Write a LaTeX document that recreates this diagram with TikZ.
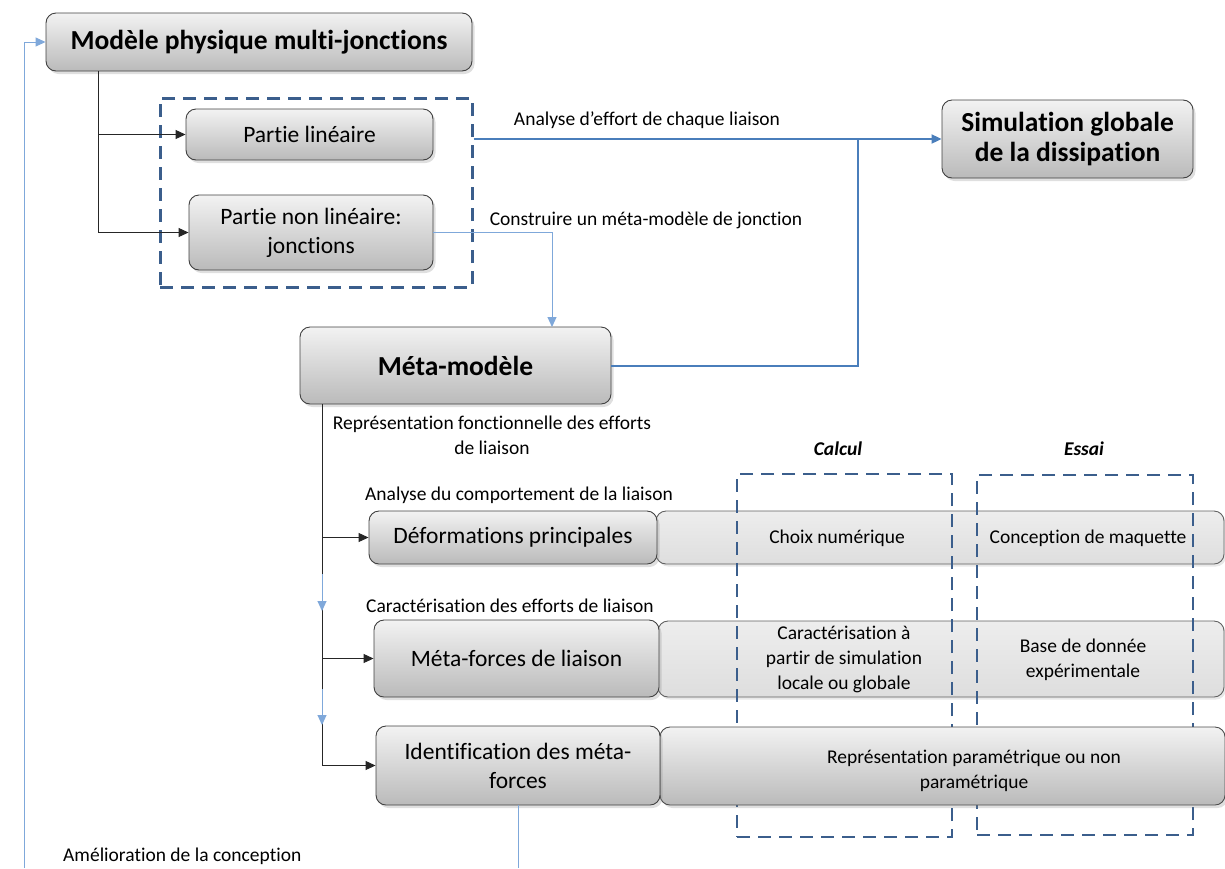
\documentclass[tikz,border=0pt]{standalone}
\usepackage{fontspec}
\setmainfont[Ligatures=NoCommon]{Carlito}
\usetikzlibrary{shadows,arrows.meta}

\definecolor{frameblue}{HTML}{3B5E8C}
\definecolor{linkblue}{HTML}{4A7EBB}
\definecolor{thinblue}{HTML}{7FA8DA}

\newcommand{\fs}[2]{\fontsize{#1}{#2}\selectfont}

\tikzset{
  x=1pt, y=-1pt,
  box/.style={draw=black!75, line width=0.9pt, rounded corners=10pt,
    top color=black!5, bottom color=black!27, inner sep=0pt, align=center,
    drop shadow={shadow xshift=2.5pt, shadow yshift=-3pt, opacity=0.25}},
  bar/.style={draw=black!62, line width=0.9pt, rounded corners=10pt,
    top color=black!7, bottom color=black!13, inner sep=0pt, align=center,
    drop shadow={shadow xshift=2pt, shadow yshift=-2.5pt, opacity=0.18}},
  group/.style={draw=frameblue, line width=3pt, dash pattern=on 13pt off 8pt,
    inner sep=0pt},
  blk/.style={draw=black!85, line width=1pt},
  bl/.style={draw=linkblue, line width=2pt},
  lbl/.style={draw=thinblue, line width=1pt},
  tip/.style={-{Triangle[length=10pt,width=9pt]}},
  note/.style={inner sep=0pt, align=center, font=\fs{19.5}{25}},
  big/.style={font=\bfseries\fs{27.5}{30}},
  mid/.style={font=\fs{23.5}{29}},
  small/.style={font=\fs{19.5}{25}}
}

\begin{document}
\begin{tikzpicture}
\useasboundingbox (0,0) rectangle (1225,868);

% upper part
\node[box, big, minimum width=426, minimum height=58] (modele) at (259,42) {Modèle physique multi-jonctions};
\node[group, minimum width=312, minimum height=189] (grp) at (316,192.5) {};
\node[box, mid, minimum width=247, minimum height=51] (plin) at (309.5,134.5) {Partie linéaire};
\node[box, mid, minimum width=244, minimum height=75] (pnl) at (311,232.5) {Partie non linéaire:\\jonctions};
\node[box, big, minimum width=251, minimum height=78] (simul) at (1067.5,139) {Simulation globale\\de la dissipation};
\node[box, big, minimum width=311, minimum height=77] (meta) at (455.5,365.5) {Méta-modèle};

% row bars behind the dashed columns
\node[bar, small, minimum width=568, minimum height=53] (r1) at (940,537.5) {};
\node[bar, small, minimum width=566, minimum height=76] (r2) at (941,659) {};

% dashed columns
\node[group, line width=2.8pt, minimum width=215, minimum height=363] (calc) at (844.5,655.5) {};
\node[group, line width=2.8pt, minimum width=216, minimum height=360] (essai) at (1085,655) {};
\node[font=\bfseries\itshape\fs{19.5}{22}] (tcalc) at (838,449) {Calcul};
\node[font=\bfseries\itshape\fs{19.5}{22}] (tessai) at (1084,449) {Essai};

% row bar in front of the columns
\node[box, small, minimum width=565, minimum height=78, draw=black!70] (r3) at (942.5,766) {};

% left boxes
\node[box, mid, minimum width=288, minimum height=53] (deform) at (513,537.5) {Déformations principales};
\node[box, mid, minimum width=285, minimum height=77] (mforce) at (516.5,658.5) {Méta-forces de liaison};
\node[box, mid, minimum width=284, minimum height=79] (ident) at (518,765.5) {Identification des méta-\\forces};

% texts in the columns
\node[small] (t11) at (837,538) {Choix numérique};
\node[small] (t12) at (1088,538) {Conception de maquette};
\node[small, align=center] (t21) at (844,659) {Caractérisation à\\partir de simulation\\locale ou globale};
\node[small, align=center] (t22) at (1083,660) {Base de donnée\\expérimentale};
\node[small, align=center] (t31) at (974,771) {Représentation paramétrique ou non\\paramétrique};

% connectors from the multi-junction model
\coordinate (t1) at (98,71);
\draw[blk] (modele.south -| t1) -- (t1 |- pnl.west);
\draw[blk, tip] (t1 |- plin.west) -- (plin.west);
\draw[blk, tip] (t1 |- pnl.west) -- (pnl.west);

% global simulation links
\coordinate (j) at (858,139);
\draw[bl, tip] (grp.east |- simul.west) -- (simul.west);
\draw[bl] (meta.east) -| (j);
\node[note, anchor=base] (lab1) at (647,125) {Analyse d’effort de chaque liaison};

% meta-model construction
\coordinate (mtop) at (552,327);
\draw[lbl, tip] (pnl.east) -| (mtop);
\node[note, anchor=base] (lab2) at (646,225) {Construire un méta-modèle de jonction};

% chain below the meta-model
\coordinate (t2) at (322,404);
\draw[blk] (t2) -- (t2 |- ident.west);
\draw[blk, tip] (t2 |- deform.west) -- (deform.west);
\draw[blk, tip] (t2 |- mforce.west) -- (mforce.west);
\draw[blk, tip] (t2 |- ident.west) -- (ident.west);
\coordinate (a1) at (322,574);
\coordinate (a2) at (322,611);
\coordinate (a3) at (322,689);
\coordinate (a4) at (322,725);
\draw[lbl, tip] (a1) -- (a2);
\draw[lbl, tip] (a3) -- (a4);
\node[note, anchor=base] (lab3) at (492,454) {Représentation fonctionnelle des efforts\\de liaison};
\node[note, anchor=base west] (lab4) at (365,500) {Analyse du comportement de la liaison};
\node[note, anchor=base west] (lab5) at (366,612) {Caractérisation des efforts de liaison};

% feedback loop
\coordinate (b1) at (518,868);
\coordinate (b0) at (24,868);
\draw[lbl] (ident.south) -- (b1);
\draw[lbl, tip] (b0) |- (modele.west);
\node[note, anchor=base west] (lab6) at (63,861) {Amélioration de la conception};
\end{tikzpicture}
\end{document}
